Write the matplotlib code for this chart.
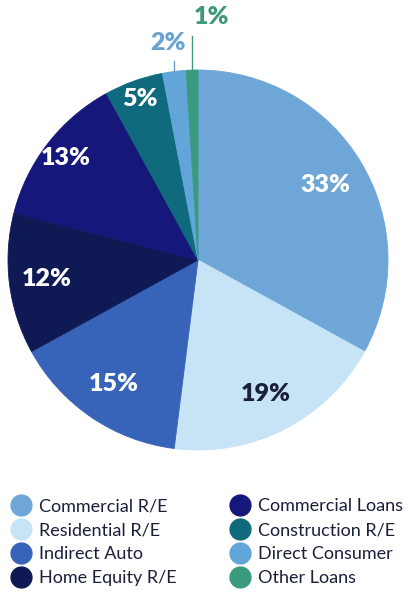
import matplotlib.pyplot as plt
import numpy as np

categories = ['Commercial R/E', 'Residential R/E', 'Indirect Auto', 'Home Equity R/E',
              'Commercial Loans', 'Construction R/E', 'Direct Consumer', 'Other Loans']
values = [33, 19, 15, 12, 13, 5, 2, 1]
colors = ['#6ea6d8', '#c6e4f6', '#3763b8', '#0f1a55', '#15177a', '#0f6a7e', '#62a5d9', '#3a9a7e']
label_colors = ['white', '#1a1f3a', 'white', 'white', 'white', 'white', '#6aa3cf', '#3f9a7a']
label_r = [0.78, 0.79, 0.79, 0.80, 0.88, 0.90, 1.15, 1.28]
# horizontal nudge of the outside labels relative to their leader line
label_dx = [0, 0, 0, 0, 0, 0, -0.03, 0.1]

plt.rcParams['font.family'] = ['Lato', 'DejaVu Sans']

fig = plt.figure(figsize=(4.1, 6.0), dpi=100)
ax = fig.add_axes([8 / 410, 150 / 600, 380 / 410, 380 / 600])
wedges, _ = ax.pie(values, colors=colors, startangle=90, counterclock=False,
                   wedgeprops=dict(linewidth=0.6))
for w, c in zip(wedges, colors):
    w.set_edgecolor(c)
ax.set_xlim(-1, 1)
ax.set_ylim(-1, 1)
ax.set_aspect('equal')
ax.axis('off')

for w, v, c, r, dx in zip(wedges, values, label_colors, label_r, label_dx):
    ang = np.deg2rad((w.theta1 + w.theta2) / 2)
    x, y = r * np.cos(ang), r * np.sin(ang)
    x0, y0 = np.cos(ang), np.sin(ang)
    if r > 1:
        x = x0 + dx
        ax.plot([x0, x0], [y0, r - 0.1], color=c, lw=1, clip_on=False)
    ax.text(x, y, f'{v}%', ha='center', va='center', color=c,
            fontsize=18, fontweight='heavy', clip_on=False)

# legend in two columns
leg = fig.legend(handles=[plt.Line2D([], [], marker='o', ls='', markersize=15,
                                     markerfacecolor=c, markeredgecolor=c) for c in colors],
                 labels=categories, ncol=2, loc='upper left', bbox_to_anchor=(-0.01, 0.197),
                 frameon=False, fontsize=13, handlelength=1.0, handletextpad=0.5,
                 columnspacing=3.0, labelspacing=0.45)
for t in leg.get_texts():
    t.set_color('#1a1f3a')

fig.savefig('out.png', dpi=100)
